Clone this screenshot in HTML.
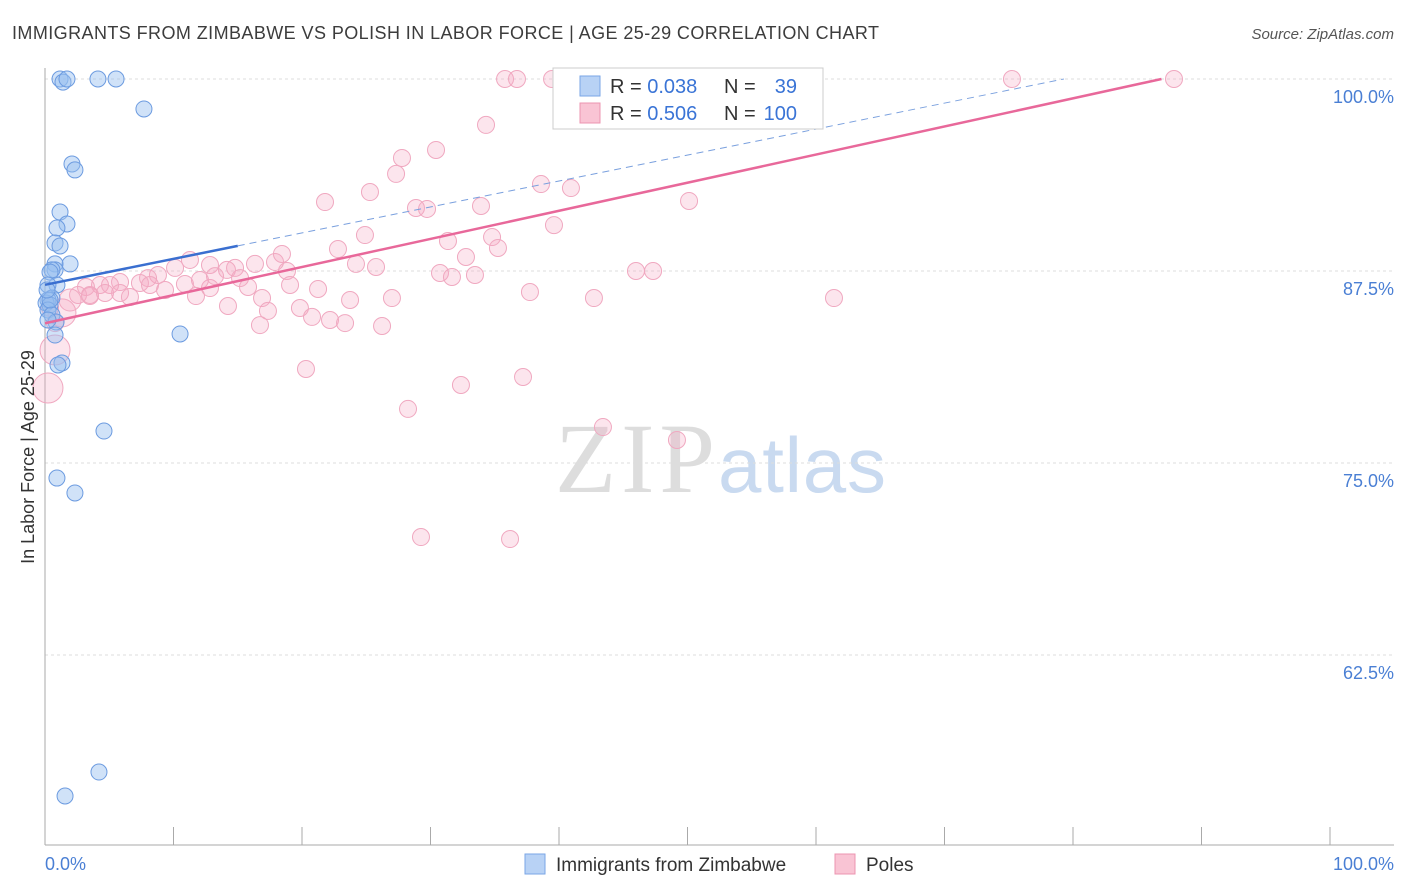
<!DOCTYPE html>
<html><head><meta charset="utf-8"><style>
body{margin:0;background:#fff;font-family:"Liberation Sans",sans-serif;}
#wrap{position:relative;width:1406px;height:892px;overflow:hidden;}
</style></head><body>
<div id="wrap">
<svg id="svg" width="1406" height="892" xmlns="http://www.w3.org/2000/svg">
<text x="12" y="39" font-size="18" fill="#3c3c3c" textLength="867" lengthAdjust="spacing">IMMIGRANTS FROM ZIMBABWE VS POLISH IN LABOR FORCE | AGE 25-29 CORRELATION CHART</text>
<text x="1394" y="39" font-size="15" fill="#555" font-style="italic" text-anchor="end">Source: ZipAtlas.com</text>
<text x="555" y="492" font-size="100" fill="#ddd" font-family="Liberation Serif" textLength="160">ZIP</text>
<text x="718" y="492" font-size="78" fill="#c9daf0" textLength="168">atlas</text>
<g id="grid"></g><g id="marks"></g>
<text transform="translate(34,457) rotate(-90)" font-size="18" fill="#333" text-anchor="middle">In Labor Force | Age 25-29</text>
<text x="45" y="870" font-size="18" fill="#4a7fd4">0.0%</text>
<text x="1394" y="870" font-size="18" fill="#4a7fd4" text-anchor="end">100.0%</text>
<rect x="553" y="68" width="270" height="61" fill="#fff" stroke="#ccc"/>
<rect x="580" y="76" width="20" height="20" fill="#b8d2f5" stroke="#7aa6e6"/>
<rect x="580" y="103" width="20" height="20" fill="#f9c4d4" stroke="#ec94b0"/>
<text x="610" y="93" font-size="20" fill="#333">R = <tspan fill="#3a74d6">0.038</tspan></text>
<text x="724" y="93" font-size="20" fill="#333">N =</text>
<text x="797" y="93" font-size="20" fill="#3a74d6" text-anchor="end">39</text>
<text x="610" y="120" font-size="20" fill="#333">R = <tspan fill="#3a74d6">0.506</tspan></text>
<text x="724" y="120" font-size="20" fill="#333">N =</text>
<text x="797" y="120" font-size="20" fill="#3a74d6" text-anchor="end">100</text>
<rect x="525" y="854" width="20" height="20" fill="#b8d2f5" stroke="#7aa6e6"/>
<text x="556" y="871" font-size="19" fill="#333">Immigrants from Zimbabwe</text>
<rect x="835" y="854" width="20" height="20" fill="#f9c4d4" stroke="#ec94b0"/>
<text x="866" y="871" font-size="19" fill="#333">Poles</text>
</svg></div>
<script>
const yTicks=[100,87.5,75,62.5];
const yTickLabels=["100.0%","87.5%","75.0%","62.5%"];
const xTicks=[0,10,20,30,40,50,60,70,80,90,100];
const bluePx=[[60,79],[63,82],[67,79],[98,79],[116,79],[144,109],[72,164],[75,170],[60,212],[67,224],[57,228],[55,243],[60,246],[70,264],[55,264],[55,270],[52,270],[50,272],[57,285],[48,285],[52,298],[48,300],[46,303],[50,305],[48,310],[52,315],[56,322],[48,320],[55,335],[180,334],[62,363],[58,365],[104,431],[57,478],[75,493],[99,772],[65,796],[50,300],[47,290]];
const pinkPx=[[505,79],[517,79],[552,79],[641,79],[648,79],[706,79],[758,79],[1012,79],[1174,79],[486,125],[436,150],[402,158],[396,174],[370,192],[325,202],[541,184],[571,188],[416,208],[427,209],[481,206],[689,201],[554,225],[365,235],[338,249],[448,241],[492,237],[498,248],[466,257],[356,264],[376,267],[440,273],[452,277],[475,275],[636,271],[653,271],[287,271],[275,262],[282,254],[255,264],[235,268],[227,270],[210,265],[190,260],[175,268],[158,275],[148,278],[140,283],[120,282],[110,285],[100,285],[86,287],[78,295],[90,296],[120,293],[130,297],[165,290],[185,284],[196,296],[210,288],[215,276],[240,278],[248,287],[262,298],[290,285],[318,289],[350,300],[392,298],[530,292],[594,298],[834,298],[228,306],[268,311],[300,308],[312,317],[330,320],[345,323],[260,325],[382,326],[62,313],[55,323],[50,308],[55,350],[48,388],[306,369],[461,385],[523,377],[408,409],[603,427],[677,440],[421,537],[510,539],[90,295],[70,300],[105,293],[150,285],[200,280]];
const blueX=bluePx.map(p=>+((p[0]-45)/12.85).toFixed(2));
const blueY=bluePx.map(p=>+(100-(p[1]-79)/15.36).toFixed(2));
const pinkX=pinkPx.map(p=>+((p[0]-45)/12.85).toFixed(2));
const pinkY=pinkPx.map(p=>+(100-(p[1]-79)/15.36).toFixed(2));
const bigPink={81:15,82:15,78:14,92:11};
const blueLine=[86.6,103.5]; const pinkLine=[84.1,102.4];
const X=v=>45+v*12.85, Y=v=>79+(100-v)*15.36;
const NS="http://www.w3.org/2000/svg";
function mk(t,a,p){const e=document.createElementNS(NS,t);for(const k in a)e.setAttribute(k,a[k]);p.appendChild(e);return e;}
const g=document.getElementById('grid'),m=document.getElementById('marks');
yTicks.forEach((v,i)=>{const l=mk('line',{x1:45,x2:1394,y1:Y(v),y2:Y(v),stroke:'#ddd','stroke-dasharray':'3,3'},g);


const t=mk('text',{x:1394,y:Y(v)+24,'font-size':18,fill:'#4a7fd4','text-anchor':'end'},g);t.textContent=yTickLabels[i];

});
const ax=mk('line',{x1:45,x2:1394,y1:845,y2:845,stroke:'#aaa'},g);


const ay=mk('line',{x1:45,x2:45,y1:68,y2:845,stroke:'#aaa'},g);


xTicks.forEach(v=>{const t=mk('line',{x1:X(v),x2:X(v),y1:827,y2:845,stroke:'#aaa'},g);

});
pinkX.forEach((x,i)=>{const c=mk('circle',{cx:X(x),cy:Y(pinkY[i]),r:bigPink[i]||8.5,fill:'rgba(246,170,195,0.3)',stroke:'#f0a8c0','stroke-width':1},m);

});
blueX.forEach((x,i)=>{const c=mk('circle',{cx:X(x),cy:Y(blueY[i]),r:8,fill:'rgba(150,190,240,0.45)',stroke:'#6c9be0','stroke-width':1},m);

});
function lineAt(a,v){return a[0]+(a[1]-a[0])*v/100;}
const pEnd=(100-pinkLine[0])/(pinkLine[1]-pinkLine[0])*100;
const pl=mk('line',{x1:X(0),y1:Y(pinkLine[0]),x2:X(pEnd),y2:Y(100),stroke:'#e8689a','stroke-width':2.5},m);


const bEnd=(100-blueLine[0])/(blueLine[1]-blueLine[0])*100;
const bl=mk('line',{x1:X(0),y1:Y(blueLine[0]),x2:X(15),y2:Y(lineAt(blueLine,15)),stroke:'#3a6fd0','stroke-width':2.5},m);


const bd=mk('line',{x1:X(15),y1:Y(lineAt(blueLine,15)),x2:X(bEnd),y2:Y(100),stroke:'#7aa0de','stroke-width':1,'stroke-dasharray':'7,5'},m);


</script>
</body></html>
